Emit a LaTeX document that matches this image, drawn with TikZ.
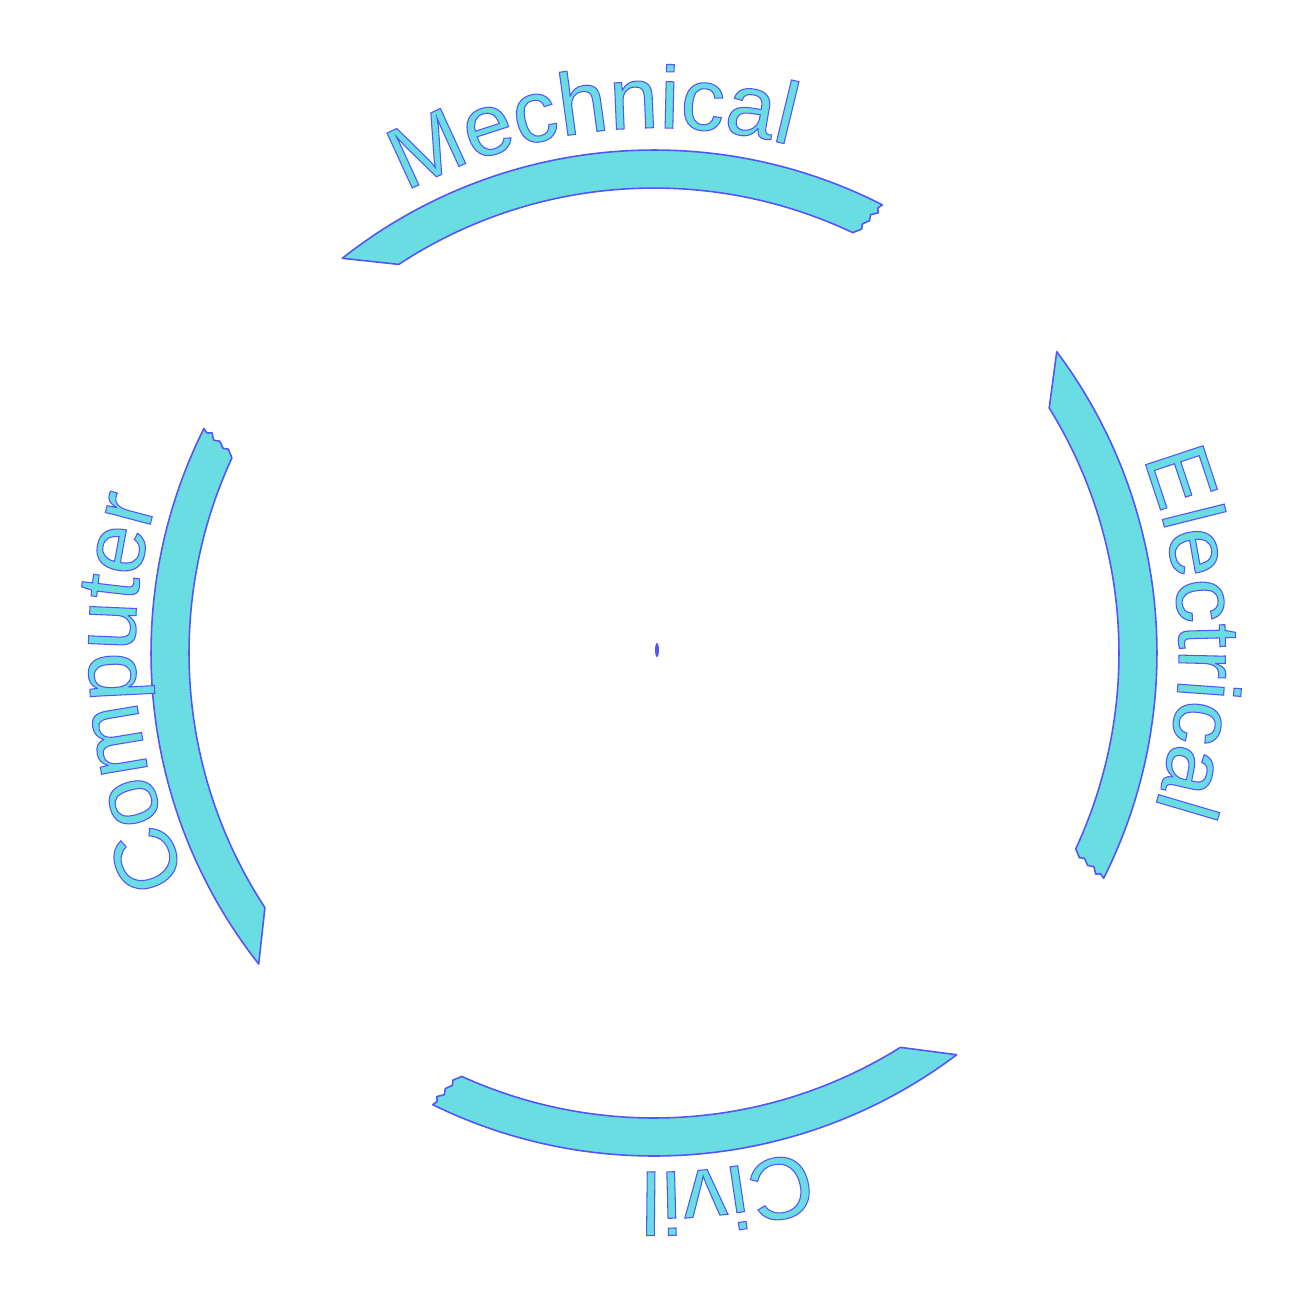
\documentclass[tikz,border=0pt]{standalone}
\usepackage{fontspec}
\setmainfont{Liberation Sans}
\setsansfont{Liberation Sans}
\usetikzlibrary{decorations.text}
\definecolor{bandcyan}{RGB}{106,221,226}
\definecolor{edgeblue}{RGB}{84,84,250}
\newcommand\outlinetext{\special{pdf:literal direct 0.33 0.33 0.98 RG 0.3 w 2 Tr}}

\begin{document}
\begin{tikzpicture}[
    font=\sffamily,
    band/.style={fill=bandcyan, draw=edgeblue, line width=0.45pt, line join=round, shift={(-0.03,-0.03)}},
    bandlabel/.style={decorate, decoration={text along path, text align=center,
        text={|\sffamily\fontsize{25}{30}\selectfont\color{bandcyan}\outlinetext|#1}}}
]
\useasboundingbox (-6.57,-6.65) rectangle (6.59,6.50);

% four bands, one per branch (sharp end, ragged end, label centre)
\foreach \name/\tip/\jag/\mid in {Mechnical/128.3/63/97, Electrical/36.8/-26.6/2,
                                  Civil/-53/-116.1/-82.6, Computer/218.2/153.5/184.7} {
  \draw[band] (\tip:5.03) arc[start angle=\tip, end angle=\jag, radius=5.03]
    -- (\jag+0.3:4.98) -- (\jag:4.94) -- (\jag+0.7:4.89) -- (\jag+0.5:4.83)
    -- (\jag+1.1:4.77) -- (\jag+0.9:4.72) -- (\jag+1.7:4.65)
    arc[start angle=\jag+1.7, end angle=\tip-5, radius=4.65] -- cycle;
  \path[bandlabel/.expanded=\name] (\mid+40:5.22) arc[start angle=\mid+40, end angle=\mid-40, radius=5.22];
}

% centre mark
\fill[edgeblue] (0,0) ellipse[x radius=0.02, y radius=0.07];
\end{tikzpicture}
\end{document}
